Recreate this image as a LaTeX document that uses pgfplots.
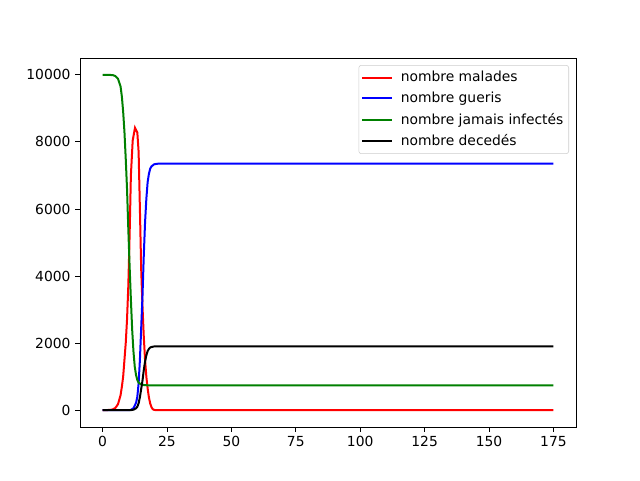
\documentclass[border=0pt]{standalone}
\usepackage{fontspec}
\setmainfont{DejaVu Sans}
\usepackage{pgfplots}
\pgfplotsset{compat=1.18}
\definecolor{mplgreen}{rgb}{0,0.5,0}
\begin{document}
\begin{tikzpicture}
\path[use as bounding box] (0,0) rectangle (480pt,360pt);
\begin{axis}[
  at={(60pt,39.75pt)}, anchor=south west,
  scale only axis, width=372pt, height=276.75pt,
  xmin=-8.75, xmax=183.75, ymin=-500, ymax=10500,
  xtick={0,25,50,75,100,125,150,175},
  ytick={0,2000,4000,6000,8000,10000},
  scaled y ticks=false,
  /pgf/number format/1000 sep={},
  /pgf/number format/assume math mode=true,
  tick label style={font=\fontsize{10.4}{12}\selectfont},
  tick align=outside, tick pos=left,
  major tick length=3.6pt,
  every tick/.style={black, line width=0.6pt},
  axis line style={line width=0.6pt},
  legend style={at={(rel axis cs:1,1)}, anchor=north east, xshift=-5.25pt, yshift=-5.25pt,
    draw=black!20, rounded corners=2pt, font=\fontsize{10.4}{12}\selectfont,
    row sep=2.3pt, inner xsep=2pt, inner ysep=2.5pt},
  legend cell align=left,
  legend image code/.code={\draw[#1] (0pt,0pt) -- (22.5pt,0pt); \path (26pt,0pt);},
]
\addplot[red, line width=1.5pt] coordinates {
(0,0) (3,10) (4,25) (5,70) (6,180) (7,450) (7.5,700) (8,1000) (8.5,1500) (9,2000)
(9.5,2700) (10,3700) (10.5,5200) (11,7000) (11.7,8040) (12.6,8420) (13.5,8280)
(14,7700) (14.5,6000) (15,4200) (15.5,3100) (16,2200) (16.5,1500) (17,1000)
(17.5,650) (18,380) (18.5,200) (19,90) (19.5,30) (20,10) (21,0) (175,0)};
\addlegendentry{nombre malades}
\addplot[blue, line width=1.5pt] coordinates {
(0,0) (10,0) (11,10) (12,60) (13,220) (13.5,400) (14,800) (14.5,1500) (15,2450)
(15.5,3400) (16,4600) (16.5,5600) (17,6300) (17.5,6800) (18,7050) (18.5,7200)
(19,7270) (20,7330) (21,7346) (22,7350) (175,7350)};
\addlegendentry{nombre gueris}
\addplot[mplgreen, line width=1.5pt] coordinates {
(0,10000) (2,9998) (4,9990) (5,9960) (6,9880) (7,9650) (7.5,9350) (8,8900)
(8.5,8300) (9,7500) (9.5,6600) (10,5400) (10.5,4300) (11,3300) (11.5,2400)
(12,1750) (12.5,1300) (13,1050) (13.5,900) (14,820) (15,770) (16,750) (18,742)
(20,740) (175,740)};
\addlegendentry{nombre jamais infectés}
\addplot[black, line width=1.5pt] coordinates {
(0,0) (10,0) (11,3) (12,16) (13,57) (13.5,104) (14,207) (14.5,389) (15,635)
(15.5,882) (16,1193) (16.5,1452) (17,1634) (17.5,1763) (18,1828) (18.5,1867)
(19,1885) (20,1901) (21,1905) (22,1906) (175,1906)};
\addlegendentry{nombre decedés}
\end{axis}
\end{tikzpicture}
\end{document}
